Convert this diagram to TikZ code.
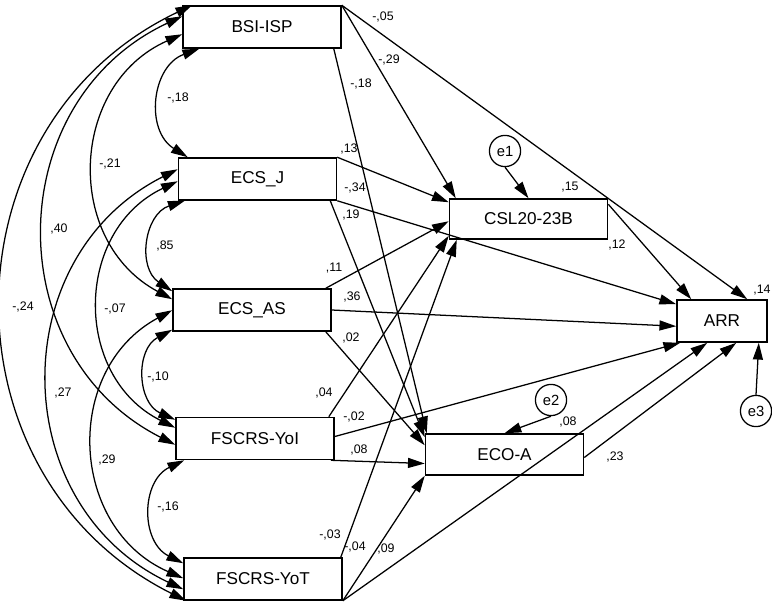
\documentclass[tikz,border=0pt]{standalone}
\usepackage{fontspec}
\setmainfont{Liberation Sans}
\usepackage{tikz}
\usetikzlibrary{arrows.meta}
\usetikzlibrary{positioning}
\usetikzlibrary{calc}
\tikzstyle{var} = [rectangle, minimum width=39.5mm, minimum height=10.5mm, inner sep=0pt, draw=black, line width=1.1pt, font=\fontsize{12.2}{14}\selectfont]
\tikzstyle{err} = [circle, minimum size=7.8mm, inner sep=0pt, draw=black, line width=0.9pt, font=\fontsize{10.5}{12}\selectfont]
\tikzstyle{est} = [inner sep=0pt, font=\fontsize{8.8}{10}\selectfont]
\tikzstyle{arrow} = [line width=0.9pt, -{Triangle[length=4.2mm, width=2.5mm]}]
\tikzstyle{cov} = [line width=0.9pt, {Triangle[length=4.2mm, width=2.5mm]}-{Triangle[length=4.2mm, width=2.5mm]}, bend right=64, looseness=1.19]

\begin{document}
\begin{tikzpicture}[x=0.25mm, y=0.25mm]
    \useasboundingbox (0,0) rectangle (772,-605);
    \node(bsi)[var] at (262,-27) {BSI-ISP};
    \node(ecsj)[var, node distance=38mm, below of=bsi, xshift=-1.125mm] {ECS\_J};
    \node(ecsas)[var, node distance=32.75mm, below of=ecsj, xshift=-1.375mm] {ECS\_AS};
    \node(yoi)[var, node distance=32.125mm, below of=ecsas, xshift=0.75mm] {FSCRS-YoI};
    \node(yot)[var, node distance=35.125mm, below of=yoi, xshift=2mm] {FSCRS-YoT};
    \node(csl)[var, minimum height=10mm] at (528.5,-219) {CSL20-23B};
    \node(eco)[var, minimum height=10.25mm] at (504.5,-454.5) {ECO-A};
    \node(arr)[var, minimum width=22.5mm] at (722,-321) {ARR};
    \node(e1)[err] at (505,-151) {e1};
    \node(e2)[err] at (551,-400) {e2};
    \node(e3)[err] at (756,-411) {e3};
    %
    \draw[cov]($(bsi.north west)+(10,0)$) to ($(yot.south west)+(3,0)$);
    \draw[cov]($(bsi.north west)+(0,-11)$) to ($(yoi.north west)+(0,-28)$);
    \draw[cov]($(bsi.north west)+(0,-29)$) to ($(ecsas.north west)+(0,-11)$);
    \draw[cov]($(bsi.south west)+(17,0)$) to ($(ecsj.north west)+(10,0)$);
    \draw[cov]($(ecsj.north west)+(0,-12)$) to ($(yot.north west)+(0,-32)$);
    \draw[cov]($(ecsj.north west)+(0,-24)$) to ($(yoi.north west)+(0,-11)$);
    \draw[cov]($(ecsj.south west)+(7,0)$) to ($(ecsas.north west)+(0,-3)$);
    \draw[cov]($(ecsas.north west)+(0,-22)$) to ($(yot.north west)+(0,-21)$);
    \draw[cov]($(ecsas.south west)+(0,2)$) to ($(yoi.north west)+(0,-3)$);
    \draw[cov]($(yoi.south west)+(9,0)$) to ($(yot.north west)+(0,-6)$);
    \node(c18)[est] at (178,-98) {-,18};
    \node(c21)[est] at (110,-164) {-,21};
    \node(c40)[est] at (59,-229) {,40};
    \node(c24)[est] at (23,-307) {-,24};
    \node(c85)[est] at (165,-246) {,85};
    \node(c07)[est] at (115,-309) {-,07};
    \node(c27)[est] at (63,-393) {,27};
    \node(c10)[est] at (158,-377) {-,10};
    \node(c29)[est] at (107,-460) {,29};
    \node(c16)[est] at (168,-507) {-,16};
    %
    \draw[arrow](bsi.north east) -- ($(arr.north west)+(71,0)$);
    \draw[arrow](bsi.north east) -- ($(csl.north west)+(7,0)$);
    \draw[arrow]($(bsi.south east)+(-8,0)$) -- ($(eco.north west)+(2,0)$);
    \draw[arrow](ecsj.north east) -- ($(csl.north west)+(0,-4)$);
    \draw[arrow](ecsj.south east) -- ($(arr.north west)+(0,-5)$);
    \draw[arrow]($(ecsj.south east)+(-7,0)$) -- ($(eco.north west)+(0,-4)$);
    \draw[arrow]($(ecsas.north east)+(-6,0)$) -- ($(csl.north west)+(0,-23)$);
    \draw[arrow](ecsas.east) -- ($(arr.north west)+(0,-27)$);
    \draw[arrow]($(ecsas.south east)+(-6,0)$) -- ($(eco.north west)+(0,-12)$);
    \draw[arrow]($(yoi.north east)+(-6,0)$) -- ($(csl.south west)+(0,4)$);
    \draw[arrow]($(yoi.east)+(0,2)$) -- ($(arr.south west)+(4,0)$);
    \draw[arrow]($(yoi.south east)+(-4,0)$) -- ($(eco.west)+(0,-9)$);
    \draw[arrow]($(yot.north east)+(-2,0)$) -- ($(csl.south west)+(8,0)$);
    \draw[arrow](yot.south east) -- (eco.south west);
    \draw[arrow](yot.south east) -- ($(arr.south west)+(31,0)$);
    \draw[arrow]($(csl.north east)+(0,-6)$) -- ($(arr.north west)+(15,0)$);
    \draw[arrow]($(eco.east)+(0,-3)$) -- ($(arr.south west)+(60,0)$);
    \draw[arrow](e1.south) -- (csl.north);
    \draw[arrow](e2.south) -- (eco.north);
    \draw[arrow](e3.north) -- ($(arr.south east)+(-9,0)$);
    %
    \node(p05)[est] at (383,-17) {-,05};
    \node(p29)[est] at (389,-60) {-,29};
    \node(p18)[est] at (361,-84) {-,18};
    \node(p13)[est] at (349,-149) {,13};
    \node(p34)[est] at (355,-188) {-,34};
    \node(p19)[est] at (351,-215) {,19};
    \node(p11)[est] at (334,-268) {,11};
    \node(p36)[est] at (352,-297) {,36};
    \node(p02)[est] at (351,-338) {,02};
    \node(p04)[est] at (324,-393) {,04};
    \node(pm02)[est] at (354,-417) {-,02};
    \node(p08)[est] at (359,-450) {,08};
    \node(p03)[est] at (330,-535) {-,03};
    \node(pm04)[est] at (355,-547) {-,04};
    \node(p09)[est] at (386,-549) {,09};
    \node(p12)[est] at (617,-245) {,12};
    \node(p23)[est] at (615,-457) {,23};
    \node(r15)[est] at (570,-187) {,15};
    \node(r08)[est] at (568,-422) {,08};
    \node(r14)[est] at (762,-290) {,14};
\end{tikzpicture}
\end{document}
